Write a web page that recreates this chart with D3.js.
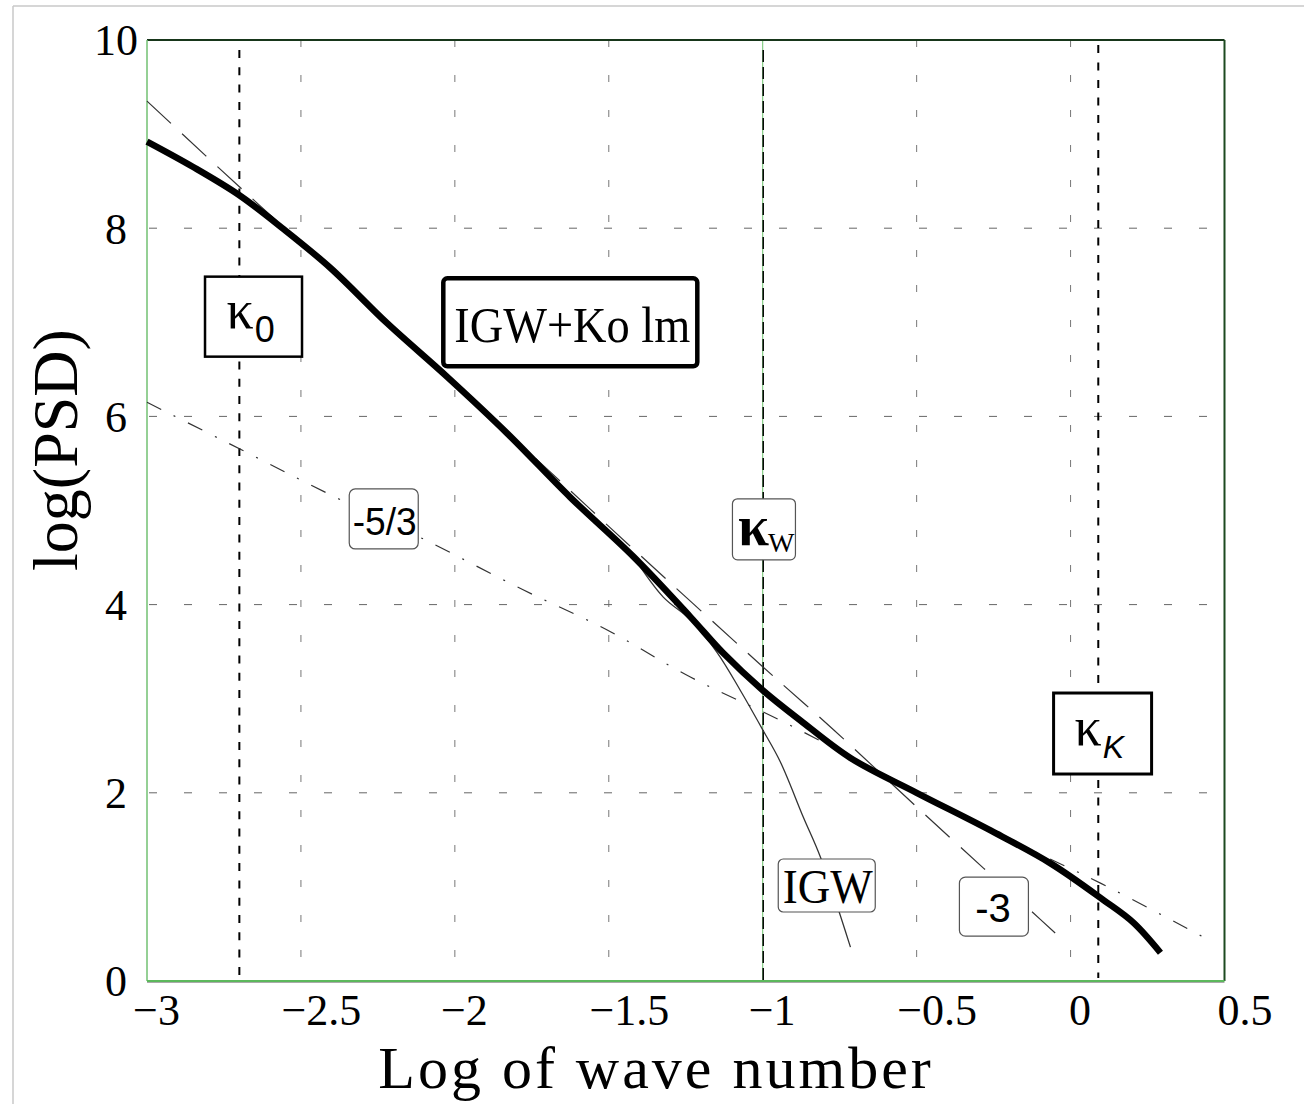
<!DOCTYPE html>
<html><head><meta charset="utf-8">
<script src="https://cdn.jsdelivr.net/npm/d3@7"></script>
<style>body{margin:0;background:#fff}</style>
</head><body>
<svg id="c" width="1304" height="1104"></svg>
<script>
// ---- data ----
const xTicks = [-3, -2.5, -2, -1.5, -1, -0.5, 0, 0.5];
const xTickLabels = ["−3", "−2.5", "−2", "−1.5", "−1", "−0.5", "0", "0.5"];
const yTicks = [0, 2, 4, 6, 8, 10];
const yTickLabels = ["0", "2", "4", "6", "8", "10"];
const gridX = [-2.5, -2, -1.5, -0.5, 0];
const gridY = [2, 4, 6, 8];
const kappa0X = -2.7, kappaWX = -1.0, kappaKX = 0.09;

// IGW+Kolm (thick)
const totalX = [-3.0, -2.85, -2.70, -2.56, -2.405, -2.22, -2.025, -1.83, -1.625, -1.42, -1.235, -1.13, -1.0, -0.878, -0.715, -0.50, -0.26, -0.065, 0.107, 0.204, 0.292];
const totalY = [8.92, 8.65, 8.35, 8.00, 7.58, 6.99, 6.42, 5.82, 5.14, 4.51, 3.87, 3.49, 3.09, 2.77, 2.37, 2.00, 1.60, 1.25, 0.86, 0.62, 0.30];
// slope -3 (dashed)
const slope3X = [-3.0, -2.7, -2.2, -1.7, -1.44, -1.0, -0.77, -0.5, -0.283, -0.12, -0.05];
const slope3Y = [9.35, 8.44, 6.95, 5.44, 4.65, 3.34, 2.67, 1.85, 1.20, 0.72, 0.51];
// slope -5/3 (dash-dot)
const slope53X = [-3.0, -2.69, -2.40, -2.11, -1.78, -1.505, -1.235, -0.943, -0.195, 0.097, 0.464];
const slope53Y = [6.15, 5.64, 5.16, 4.71, 4.16, 3.73, 3.23, 2.77, 1.50, 1.04, 0.41];
// IGW (thin)
const igwX = [-1.42, -1.323, -1.235, -1.148, -1.073, -1.0, -0.943, -0.868, -0.813, -0.715];
const igwY = [4.51, 4.08, 3.84, 3.49, 3.09, 2.67, 2.33, 1.74, 1.32, 0.36];

// ---- layout ----
const W = 1304, H = 1104;
const L = 147, R = 1224.5, T = 40, B = 981;
const svg = d3.select("#c");
svg.append("rect").attr("width", W).attr("height", H).attr("fill", "#fff");
// outer light border
svg.append("line").attr("x1", 13).attr("y1", 6).attr("x2", 13).attr("y2", H).attr("stroke", "#c8c8c8").attr("stroke-width", 1.5);
svg.append("line").attr("x1", 13).attr("y1", 6).attr("x2", W).attr("y2", 6).attr("stroke", "#c8c8c8").attr("stroke-width", 1.5);

const x = d3.scaleLinear().domain([-3, 0.5]).range([L, R]);
const y = d3.scaleLinear().domain([0, 10]).range([B, T]);

// grid
const g = svg.append("g");
g.selectAll(".gx").data(gridX).join("line")
  .attr("x1", d => x(d)).attr("x2", d => x(d)).attr("y1", T).attr("y2", B)
  .attr("stroke", "#777").attr("stroke-width", 1).attr("stroke-dasharray", "7,28");
g.selectAll(".gy").data(gridY).join("line")
  .attr("x1", L).attr("x2", R - 15).attr("y1", d => y(d)).attr("y2", d => y(d))
  .attr("stroke", "#666").attr("stroke-width", 1).attr("stroke-dasharray", "8,27").attr("stroke-dashoffset", -2);

// green line at -1
g.append("line").attr("x1", x(kappaWX)).attr("x2", x(kappaWX)).attr("y1", T).attr("y2", B)
  .attr("stroke", "#6cc36c").attr("stroke-width", 1);

// kappa vertical lines
g.append("line").attr("x1", x(kappa0X)).attr("x2", x(kappa0X)).attr("y1", 50).attr("y2", B + 1)
  .attr("stroke", "#000").attr("stroke-width", 2).attr("stroke-dasharray", "8,9.3");
g.append("line").attr("x1", x(kappaWX) + 0.5).attr("x2", x(kappaWX) + 0.5).attr("y1", 50).attr("y2", B + 1)
  .attr("stroke", "#000").attr("stroke-width", 1.5).attr("stroke-dasharray", "12,5");
g.append("line").attr("x1", x(kappaKX)).attr("x2", x(kappaKX)).attr("y1", 45).attr("y2", B - 3)
  .attr("stroke", "#000").attr("stroke-width", 2).attr("stroke-dasharray", "8,9.5");

// frame
svg.append("line").attr("x1", L).attr("x2", R).attr("y1", T).attr("y2", T).attr("stroke", "#17361a").attr("stroke-width", 2);
svg.append("line").attr("x1", R).attr("x2", R).attr("y1", T).attr("y2", B).attr("stroke", "#1d4a20").attr("stroke-width", 2);
svg.append("line").attr("x1", L).attr("x2", L).attr("y1", T).attr("y2", B).attr("stroke", "#72c172").attr("stroke-width", 1.5);
svg.append("line").attr("x1", L).attr("x2", R).attr("y1", B + 1.5).attr("y2", B + 1.5).attr("stroke", "#aaa").attr("stroke-width", 1);
svg.append("line").attr("x1", L).attr("x2", R).attr("y1", B).attr("y2", B).attr("stroke", "#5cb85c").attr("stroke-width", 1.8);

// curves
const pts = (xs, ys) => xs.map((v, i) => [v, ys[i]]);
const line = d3.line().x(d => x(d[0])).y(d => y(d[1])).curve(d3.curveCatmullRom.alpha(0.5));
svg.append("path").attr("d", line(pts(slope53X, slope53Y))).attr("fill", "none")
  .attr("stroke", "#333").attr("stroke-width", 1.2).attr("stroke-dasharray", "16,14,2,14");
svg.append("path").attr("d", line(pts(slope3X, slope3Y))).attr("fill", "none")
  .attr("stroke", "#333").attr("stroke-width", 1.2).attr("stroke-dasharray", "33,15");
svg.append("path").attr("d", line(pts(igwX, igwY))).attr("fill", "none")
  .attr("stroke", "#333").attr("stroke-width", 1.3);
svg.append("path").attr("d", line(pts(totalX, totalY))).attr("fill", "none")
  .attr("stroke", "#000").attr("stroke-width", 6.5).attr("stroke-linejoin", "round").attr("stroke-linecap", "butt");

// axes
const serif = "'Liberation Serif', 'Times New Roman', serif";
const sans = "'Liberation Sans', Arial, sans-serif";
const xa = svg.append("g").attr("transform", `translate(0,${B})`)
  .call(d3.axisBottom(x).tickValues(xTicks).tickFormat((d, i) => xTickLabels[i]).tickSize(0));
xa.select(".domain").remove();
xa.selectAll("text").attr("y", 44).attr("dy", 0)
  .attr("dx", (d, i) => xTickLabels[i].includes(".") ? 20 : 9)
  .attr("font-family", serif).attr("font-size", 44).attr("fill", "#000");
const ya = svg.append("g").attr("transform", `translate(${L},0)`)
  .call(d3.axisLeft(y).tickValues(yTicks).tickFormat((d, i) => yTickLabels[i]).tickSize(0));
ya.select(".domain").remove();
ya.selectAll("text").attr("x", -31).attr("dy", "0.34em").attr("text-anchor", "middle")
  .attr("font-family", serif).attr("font-size", 44).attr("fill", "#000");

svg.append("text").attr("x", 656).attr("y", 1088).attr("text-anchor", "middle")
  .attr("font-family", serif).attr("font-size", 60).attr("letter-spacing", 3).text("Log of wave number");
svg.append("text").attr("transform", "translate(77,450) rotate(-90)").attr("text-anchor", "middle")
  .attr("font-family", serif).attr("font-size", 64).text("log(PSD)");

// annotation boxes
function box(cx, cy, w, h, sw, rx, stroke) {
  const px = x(cx), py = y(cy);
  svg.append("rect").attr("x", px - w / 2).attr("y", py - h / 2).attr("width", w).attr("height", h)
    .attr("rx", rx).attr("fill", "#fff").attr("stroke", stroke).attr("stroke-width", sw);
  return [px, py];
}
// kappa_0
{
  const [px, py] = box(-2.654, 7.06, 97, 80, 2.5, 0, "#000");
  const t = svg.append("text").attr("x", px - 27).attr("y", py + 11).attr("font-family", serif).attr("font-size", 54);
  t.append("tspan").text("κ");
  t.append("tspan").attr("dx", 1).attr("dy", 14).attr("font-family", sans).attr("font-size", 36).text("0");
}
// IGW+Kolm
{
  const [px, py] = box(-1.625, 7.00, 254, 88, 4.5, 4, "#000");
  svg.append("text").attr("x", px - 116).attr("y", py + 20).attr("font-family", serif).attr("font-size", 51)
    .attr("textLength", 236).attr("lengthAdjust", "spacingAndGlyphs").text("IGW+Ko lm");
}
// -5/3
{
  const [px, py] = box(-2.231, 4.91, 69, 60, 1.2, 6, "#555");
  svg.append("text").attr("x", px + 1).attr("y", py + 16).attr("text-anchor", "middle")
    .attr("font-family", sans).attr("font-size", 39).attr("textLength", 64).attr("lengthAdjust", "spacingAndGlyphs").text("-5/3");
}
// kappa_W
{
  const [px, py] = box(-0.996, 4.80, 63, 61, 1.2, 5, "#555");
  const t = svg.append("text").attr("x", px - 26).attr("y", py + 15.5).attr("font-family", serif).attr("font-size", 56).attr("font-weight", "bold");
  t.append("tspan").text("κ");
  t.append("tspan").attr("dx", -1).attr("dy", 7).attr("font-weight", "normal").attr("font-size", 28).text("W");
}
// kappa_K
{
  const [px, py] = box(0.104, 2.63, 98, 81, 3, 0, "#000");
  const t = svg.append("text").attr("x", px - 28).attr("y", py + 11.5).attr("font-family", serif).attr("font-size", 54);
  t.append("tspan").text("κ");
  t.append("tspan").attr("dx", 1).attr("dy", 13).attr("font-family", sans).attr("font-style", "italic").attr("font-size", 32).text("K");
}
// IGW
{
  const [px, py] = box(-0.792, 1.015, 97, 53, 1.2, 5, "#555");
  svg.append("text").attr("x", px - 44).attr("y", py + 17.5).attr("font-family", serif).attr("font-size", 49)
    .attr("textLength", 90).attr("lengthAdjust", "spacingAndGlyphs").text("IGW");
}
// -3
{
  const [px, py] = box(-0.249, 0.79, 69, 59, 1.2, 6, "#555");
  svg.append("text").attr("x", px - 1).attr("y", py + 15.5).attr("text-anchor", "middle")
    .attr("font-family", sans).attr("font-size", 40).text("-3");
}
</script>
</body></html>
